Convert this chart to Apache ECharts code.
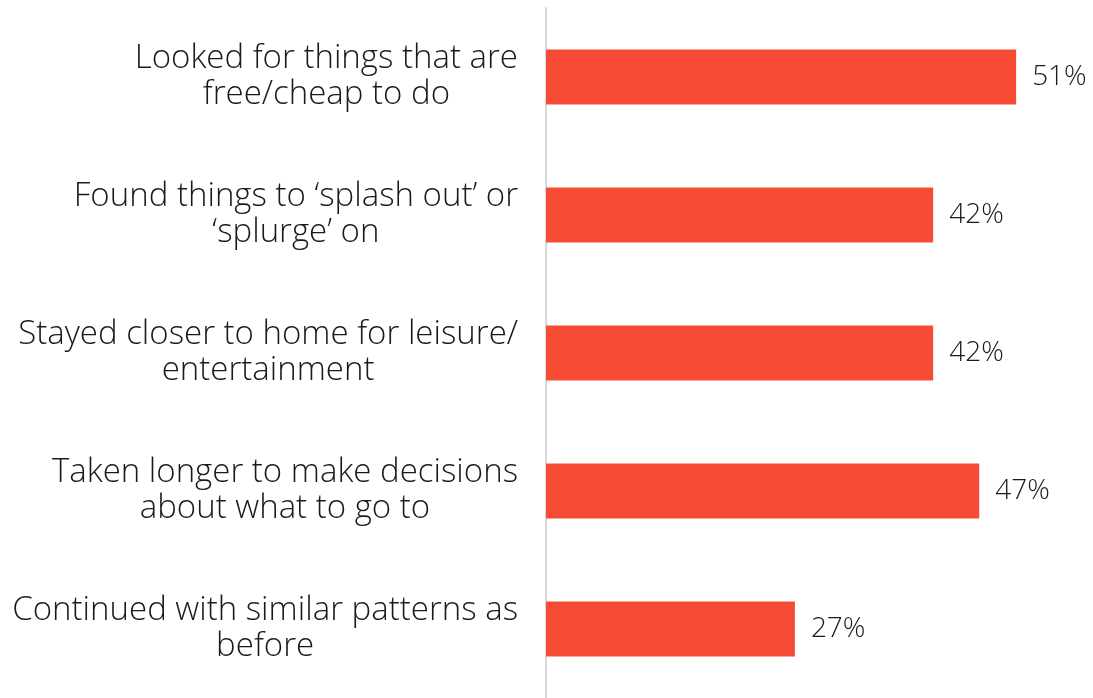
<!DOCTYPE html>
<html>
<head>
<meta charset="utf-8">
<script src="https://cdn.jsdelivr.net/npm/echarts@6/dist/echarts.min.js"></script>
<style>
  html, body { margin: 0; padding: 0; background: #ffffff; }
  #chart { width: 1093px; height: 698px; }
</style>
</head>
<body>
<div id="chart"></div>
<script>
// Category labels, one entry per line of the wrapped label
const categories = [
  ['Looked for things that are', 'free/cheap to do'],
  ['Found things to \u2018splash out\u2019 or', '\u2018splurge\u2019 on'],
  ['Stayed closer to home for leisure/', 'entertainment'],
  ['Taken longer to make decisions', 'about what to go to'],
  ['Continued with similar patterns as', 'before']
];
// Share of respondents (%)
const values = [51, 42, 42, 47, 27];

const FONT = '"Open Sans", "Noto Sans", sans-serif';
const TEXT = '#1a1a1a';

const chart = echarts.init(document.getElementById('chart'), null, { renderer: 'canvas' });

chart.setOption({
  backgroundColor: '#ffffff',
  animation: false,
  grid: { left: 546, right: 40, top: 8, bottom: -1, containLabel: false },
  xAxis: {
    type: 'value',
    min: 0,
    max: 55,
    show: false
  },
  yAxis: {
    type: 'category',
    inverse: true,
    data: categories.map(lines => lines.join('\n')),
    axisLine: { show: true, lineStyle: { color: '#d9d9d9', width: 2 } },
    axisTick: { show: false },
    splitLine: { show: false },
    axisLabel: {
      margin: 28,
      align: 'right',
      formatter: v => v.split('\n').map(l => '{c|' + l + '}').join('\n'),
      rich: {
        c: {
          align: 'center',
          fontFamily: FONT,
          fontWeight: 300,
          fontSize: 33,
          lineHeight: 36,
          color: TEXT
        }
      }
    }
  },
  series: [{
    type: 'bar',
    data: values,
    barWidth: 55,
    itemStyle: { color: '#f84b36' },
    label: {
      show: true,
      position: 'right',
      distance: 16,
      formatter: p => p.value + '%',
      fontFamily: FONT,
      fontWeight: 300,
      fontSize: 28,
      color: TEXT
    }
  }]
});
</script>
</body>
</html>
